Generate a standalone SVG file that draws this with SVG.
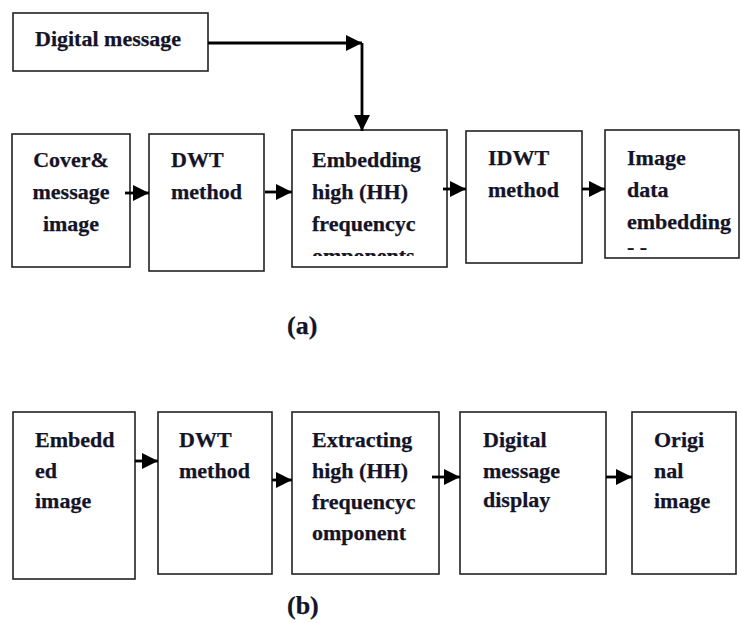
<svg xmlns="http://www.w3.org/2000/svg" width="741" height="623" viewBox="0 0 741 623">
<style>
.box{fill:#fff;stroke:#222;stroke-width:1.6}
.t{font-family:"Liberation Serif","Times New Roman",serif;font-weight:bold;font-size:22px;fill:#141428;stroke:#141428;stroke-width:0.25}
.lbl{font-size:26px}
.c{stroke:#000;stroke-width:2.8;fill:none}
</style>
<defs>
<marker id="ah" markerUnits="userSpaceOnUse" markerWidth="17" markerHeight="16" refX="16" refY="8" orient="auto">
<path d="M0,0 L16,8 L0,16 z" fill="#000"/>
</marker>
<clipPath id="clipEmb"><rect x="292" y="130" width="155" height="126"/></clipPath>
<clipPath id="clipImg"><rect x="605" y="130" width="136" height="120"/></clipPath>
</defs>
<rect width="741" height="623" fill="#fff"/>

<g id="digital-message">
<rect class="box" x="13" y="13" width="195" height="58"/>
<text class="t" x="35" y="46">Digital message</text>
</g>
<g id="cover">
<rect class="box" x="12" y="134" width="118" height="133"/>
<text class="t" text-anchor="middle"><tspan x="71" y="167">Cover&amp;</tspan><tspan x="71" y="199">message</tspan><tspan x="71" y="231">image</tspan></text>
</g>
<g id="dwt-a">
<rect class="box" x="149" y="134" width="115" height="137"/>
<text class="t"><tspan x="171" y="167">DWT</tspan><tspan x="171" y="199">method</tspan></text>
</g>
<g id="embedding">
<rect class="box" x="292" y="130" width="155" height="137"/>
<text class="t" clip-path="url(#clipEmb)"><tspan x="312" y="167">Embedding</tspan><tspan x="312" y="199">high (HH)</tspan><tspan x="312" y="231">frequencyc</tspan><tspan x="312" y="263">omponents</tspan></text>
</g>
<g id="idwt">
<rect class="box" x="466" y="131" width="116" height="132"/>
<text class="t"><tspan x="488" y="165">IDWT</tspan><tspan x="488" y="197">method</tspan></text>
</g>
<g id="image-data">
<rect class="box" x="605" y="130" width="134" height="128"/>
<text class="t" clip-path="url(#clipImg)"><tspan x="627" y="165">Image</tspan><tspan x="627" y="197">data</tspan><tspan x="627" y="229">embedding</tspan><tspan x="627" y="254">- -</tspan></text>
</g>
<text class="t lbl" x="287" y="334">(a)</text>

<g id="embedded">
<rect class="box" x="13" y="412" width="122" height="167"/>
<text class="t"><tspan x="35" y="447">Embedd</tspan><tspan x="35" y="478">ed</tspan><tspan x="35" y="508">image</tspan></text>
</g>
<g id="dwt-b">
<rect class="box" x="158" y="412" width="114" height="162"/>
<text class="t"><tspan x="179" y="447">DWT</tspan><tspan x="179" y="478">method</tspan></text>
</g>
<g id="extracting">
<rect class="box" x="292" y="412" width="147" height="162"/>
<text class="t"><tspan x="312" y="447">Extracting</tspan><tspan x="312" y="478">high (HH)</tspan><tspan x="312" y="509">frequencyc</tspan><tspan x="312" y="540">omponent</tspan></text>
</g>
<g id="digital-display">
<rect class="box" x="460" y="412" width="146" height="162"/>
<text class="t"><tspan x="483" y="447">Digital</tspan><tspan x="483" y="478">message</tspan><tspan x="483" y="507">display</tspan></text>
</g>
<g id="original">
<rect class="box" x="632" y="412" width="104" height="162"/>
<text class="t"><tspan x="654" y="447">Origi</tspan><tspan x="654" y="478">nal</tspan><tspan x="654" y="508">image</tspan></text>
</g>
<text class="t lbl" x="287" y="614">(b)</text>

<g id="connectors">
<path class="c" d="M208,43 H362" marker-end="url(#ah)"/>
<path class="c" d="M362,43 V131" marker-end="url(#ah)"/>
<path class="c" d="M125,193 H149" marker-end="url(#ah)"/>
<path class="c" d="M265,192 H292" marker-end="url(#ah)"/>
<path class="c" d="M443,189 H466" marker-end="url(#ah)"/>
<path class="c" d="M582,189 H605" marker-end="url(#ah)"/>
<path class="c" d="M135,461 H158" marker-end="url(#ah)"/>
<path class="c" d="M272,480 H292" marker-end="url(#ah)"/>
<path class="c" d="M432,477 H460" marker-end="url(#ah)"/>
<path class="c" d="M606,477 H632" marker-end="url(#ah)"/>
</g>
</svg>
